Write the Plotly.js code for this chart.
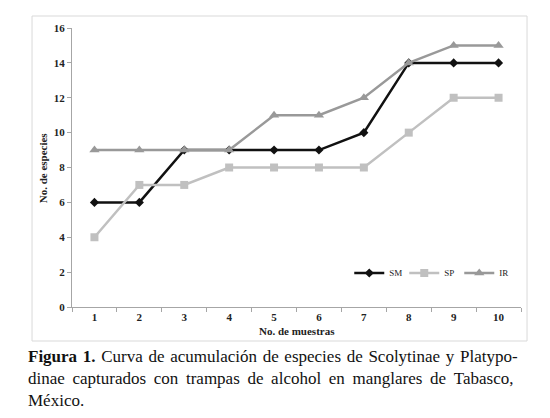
<!DOCTYPE html>
<html>
<head>
<meta charset="utf-8">
<script src="https://cdn.plot.ly/plotly-3.0.1.min.js"></script>
<style>
  html, body { margin: 0; padding: 0; background: #fff; }
  #chart { width: 550px; height: 418px; }
</style>
</head>
<body>
<div id="chart"></div>
<script>
  // muestras (x) and accumulated species per site
  var muestras = ["1", "2", "3", "4", "5", "6", "7", "8", "9", "10"];
  var sm = [6, 6, 9, 9, 9, 9, 10, 14, 14, 14];
  var sp = [4, 7, 7, 8, 8, 8, 8, 10, 12, 12];
  var ir = [9, 9, 9, 9, 11, 11, 12, 14, 15, 15];

  var caption = [
    "<b>Figura 1.</b> Curva de acumulación de especies de Scolytinae y Platypo-",
    "dinae capturados con trampas de alcohol en manglares de Tabasco,",
    "México."
  ];

  var serif = "'Liberation Serif', 'Times New Roman', Times, serif";

  function serie(name, y, color, symbol, size) {
    return {
      x: muestras, y: y, name: name, type: "scatter", mode: "lines+markers",
      line: {color: color, width: 2.5},
      marker: {symbol: symbol, size: size, color: color}
    };
  }

  // rough justification: widen the gaps between words
  function justify(s, gap) { return s.split(" ").join(" " + gap); }

  var data = [
    serie("SM", sm, "#111111", "diamond", 7),
    serie("SP", sp, "#c0c0c0", "square", 8),
    serie("IR", ir, "#999999", "triangle-up", 9)
  ];

  var capFont = {family: serif, size: 17, color: "#111"};
  var capY = [-0.178, -0.258, -0.334];
  var capGap = ["\u200a", "\u2009", ""];
  var capAnn = caption.map(function (t, i) {
    return {text: justify(t, capGap[i]), xref: "paper", yref: "paper",
            x: -0.1, y: capY[i], xanchor: "left", yanchor: "middle",
            borderpad: 0, showarrow: false, font: capFont};
  });

  var layout = {
    width: 550, height: 418,
    margin: {l: 72, r: 29, t: 28, b: 111},
    paper_bgcolor: "#fff", plot_bgcolor: "#fff",
    font: {family: serif},
    showlegend: true,
    legend: {
      orientation: "h", x: 0.985, y: 0.122, xanchor: "right", yanchor: "middle",
      font: {family: serif, size: 9, color: "#222"},
      bgcolor: "rgba(0,0,0,0)", itemwidth: 30,
      entrywidth: 10, entrywidthmode: "pixels"
    },
    xaxis: {
      type: "category", range: [-0.5, 9.5],
      showline: true, linecolor: "#a6a6a6", linewidth: 1,
      ticks: "outside", tickson: "boundaries", ticklen: 4, tickcolor: "#a6a6a6",
      showgrid: false, zeroline: false,
      tickfont: {family: serif, size: 11, color: "#222", weight: "bold"}
    },
    yaxis: {
      range: [0, 16], dtick: 2,
      showline: true, linecolor: "#a6a6a6", linewidth: 1,
      ticks: "outside", ticklen: 4, tickcolor: "#a6a6a6",
      showgrid: false, zeroline: false,
      tickfont: {family: serif, size: 11, color: "#222", weight: "bold"}
    },
    shapes: [{
      type: "rect", xref: "paper", yref: "paper",
      x0: -0.089, x1: 1.0134, y0: -0.1219, y1: 1.043,
      line: {color: "#d9d9d9", width: 1}
    }],
    annotations: [
      {text: "<b>No. de muestras</b>", xref: "paper", yref: "paper",
       x: 0.5, y: -0.087, showarrow: false, yanchor: "middle",
       font: {family: serif, size: 11, color: "#222"}},
      {text: "<b>No. de especies</b>", xref: "paper", yref: "paper",
       x: -0.065, y: 0.5, showarrow: false, textangle: -90, xanchor: "center",
       font: {family: serif, size: 11, color: "#222"}}
    ].concat(capAnn)
  };

  Plotly.newPlot("chart", data, layout, {displayModeBar: false, staticPlot: true});
</script>
</body>
</html>
